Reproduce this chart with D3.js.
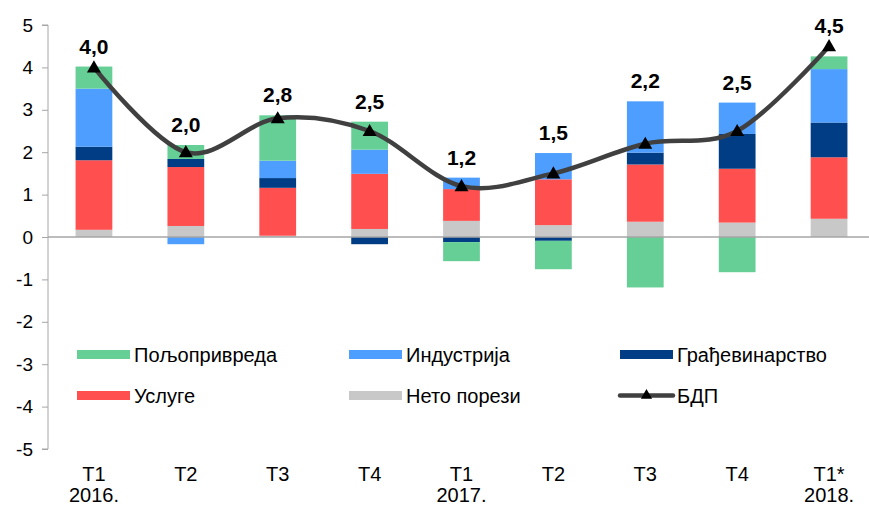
<!DOCTYPE html>
<html>
<head>
<meta charset="utf-8">
<script src="https://cdn.jsdelivr.net/npm/d3@7"></script>
<style>
  body { margin: 0; background: #fff; }
  text { font-family: "Liberation Sans", Arial, sans-serif; }
</style>
</head>
<body>
<svg id="chart" width="869" height="507"></svg>
<script>
const w = 869;
const h = 507;

// quarters and year line under them
const categories = ["T1", "T2", "T3", "T4", "T1", "T2", "T3", "T4", "T1*"];
const years = ["2016.", "", "", "", "2017.", "", "", "", "2018."];

// contributions, p.p.
const agriculture = [0.52, 0.33, 1.07, 0.66, -0.45, -0.67, -1.19, -0.83, 0.30];
const industry = [1.37, -0.17, 0.41, 0.57, 0.27, 0.62, 1.21, 0.74, 1.26];
const construction = [0.32, 0.19, 0.23, -0.17, -0.12, -0.09, 0.28, 0.82, 0.82];
const services = [1.64, 1.39, 1.13, 1.30, 0.75, 1.08, 1.35, 1.27, 1.45];
const netTaxes = [0.17, 0.26, 0.03, 0.19, 0.38, 0.28, 0.36, 0.34, 0.43];
const gdp = [4.0, 2.0, 2.8, 2.5, 1.2, 1.5, 2.2, 2.5, 4.5];

const yTicks = [-5, -4, -3, -2, -1, 0, 1, 2, 3, 4, 5];

const series = [
  { key: "netTaxes", name: "Нето порези", values: netTaxes, color: "#c8c8c8" },
  { key: "services", name: "Услуге", values: services, color: "#ff4f4f" },
  { key: "construction", name: "Грађевинарство", values: construction, color: "#003d85" },
  { key: "industry", name: "Индустрија", values: industry, color: "#4d9eff" },
  { key: "agriculture", name: "Пољопривреда", values: agriculture, color: "#66cf96" },
];
const colorOf = {};
series.forEach(s => colorOf[s.key] = s.color);

const table = categories.map(function (c, i) {
  const row = { i: i };
  series.forEach(s => row[s.key] = s.values[i]);
  return row;
});

const stacked = d3.stack()
  .keys(series.map(s => s.key))
  .offset(d3.stackOffsetDiverging)(table);

const left = 48;
const right = 875;

const x = d3.scaleBand()
  .domain(d3.range(categories.length))
  .range([left, right])
  .paddingInner(0.6)
  .paddingOuter(0.3);

const y = d3.scaleLinear()
  .domain([-5, 5])
  .range([449, 25]);

const svg = d3.select("#chart");

// y axis
const yAxis = svg.append("g")
  .attr("transform", "translate(" + left + ",0)")
  .call(d3.axisLeft(y).tickValues(yTicks).tickSize(6).tickPadding(9).tickFormat(d => String(d)));
yAxis.selectAll("path, line").attr("stroke", "#a6a6a6");
yAxis.select(".domain").attr("d", "M-6," + y(5) + "H0V" + y(-5) + "H-6");
yAxis.selectAll("text")
  .attr("font-size", "19px")
  .attr("fill", "#000");

// bars
svg.append("g")
  .selectAll("g")
  .data(stacked)
  .join("g")
  .attr("fill", d => colorOf[d.key])
  .selectAll("rect")
  .data(d => d)
  .join("rect")
  .attr("x", d => x(d.data.i))
  .attr("width", x.bandwidth())
  .attr("y", d => y(Math.max(d[0], d[1])))
  .attr("height", d => Math.abs(y(d[0]) - y(d[1])));

// zero line
svg.append("line")
  .attr("x1", left)
  .attr("x2", w)
  .attr("y1", y(0))
  .attr("y2", y(0))
  .attr("stroke", "#a6a6a6")
  .attr("stroke-width", 1.5);

// x labels
const cx = i => x(i) + x.bandwidth() / 2;
svg.append("g")
  .selectAll("text")
  .data(categories)
  .join("text")
  .attr("x", (d, i) => cx(i))
  .attr("y", 481)
  .attr("text-anchor", "middle")
  .attr("font-size", "20px")
  .text(d => d);
svg.append("g")
  .selectAll("text")
  .data(years)
  .join("text")
  .attr("x", (d, i) => cx(i))
  .attr("y", 502)
  .attr("text-anchor", "middle")
  .attr("font-size", "20px")
  .text(d => d);

// gdp line
const line = d3.line()
  .x((d, i) => cx(i))
  .y(d => y(d))
  .curve(d3.curveCardinal.tension(0));

svg.append("path")
  .datum(gdp)
  .attr("d", line)
  .attr("fill", "none")
  .attr("stroke", "#404040")
  .attr("stroke-width", 4.5)
  .attr("stroke-linecap", "round");

const tri = d3.symbol().type(d3.symbolTriangle).size(85);
svg.append("g")
  .selectAll("path")
  .data(gdp)
  .join("path")
  .attr("transform", (d, i) => "translate(" + cx(i) + "," + (y(d) + 1) + ")")
  .attr("d", tri)
  .attr("fill", "#000");

// gdp labels, above the taller of bar and point
const fmt = d3.format(".1f");
svg.append("g")
  .selectAll("text")
  .data(gdp)
  .join("text")
  .attr("x", (d, i) => cx(i))
  .attr("y", function (d, i) {
    const top = Math.max(d, d3.max(stacked, s => s[i][1]));
    return y(top) - 13;
  })
  .attr("text-anchor", "middle")
  .attr("font-size", "21px")
  .attr("font-weight", "bold")
  .text(d => fmt(d).replace(".", ","));

// legend
const legendItems = [
  { name: "Пољопривреда", color: colorOf.agriculture },
  { name: "Индустрија", color: colorOf.industry },
  { name: "Грађевинарство", color: colorOf.construction },
  { name: "Услуге", color: colorOf.services },
  { name: "Нето порези", color: colorOf.netTaxes },
  { name: "БДП", line: true },
];
const colX = [77, 349, 620];
const rowY = [354.5, 395.5];

const lg = svg.append("g")
  .selectAll("g")
  .data(legendItems)
  .join("g")
  .attr("transform", (d, i) => "translate(" + colX[i % 3] + "," + rowY[Math.floor(i / 3)] + ")");

lg.filter(d => !d.line)
  .append("rect")
  .attr("x", 0)
  .attr("y", -4.5)
  .attr("width", 53)
  .attr("height", 9)
  .attr("fill", d => d.color);

const lineItem = lg.filter(d => d.line);
lineItem.append("line")
  .attr("x1", 0)
  .attr("x2", 53)
  .attr("stroke", "#404040")
  .attr("stroke-width", 4.5)
  .attr("stroke-linecap", "round");
lineItem.append("path")
  .attr("transform", "translate(26.5,0)")
  .attr("d", d3.symbol().type(d3.symbolTriangle).size(55))
  .attr("fill", "#000");

lg.append("text")
  .attr("x", 57)
  .attr("y", 7)
  .attr("font-size", "20px")
  .text(d => d.name);
</script>
</body>
</html>
